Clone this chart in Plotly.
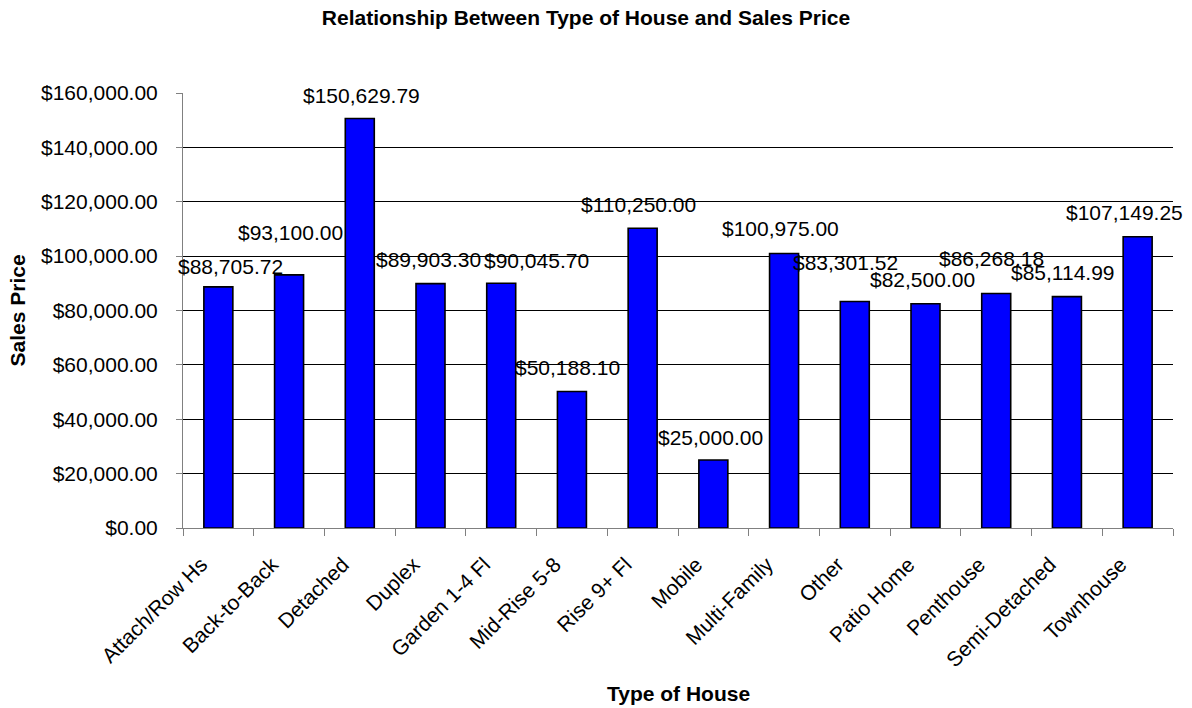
import plotly.graph_objects as go

# Average sales price by type of house
house_types = [
    "Attach/Row Hs", "Back-to-Back", "Detached", "Duplex", "Garden 1-4 Fl",
    "Mid-Rise 5-8", "Rise 9+ Fl", "Mobile", "Multi-Family", "Other",
    "Patio Home", "Penthouse", "Semi-Detached", "Townhouse",
]
sales_price = [
    88705.72, 93100.00, 150629.79, 89903.30, 90045.70,
    50188.10, 110250.00, 25000.00, 100975.00, 83301.52,
    82500.00, 86268.18, 85114.99, 107149.25,
]
y_ticks = [0, 20000, 40000, 60000, 80000, 100000, 120000, 140000, 160000]

# Pixel nudges for each value label (horizontal, vertical above bar top)
label_dx = [12, 1, 2, -2, 35, -4, -4, -3, -4, -9, -3, -5, -4, -13]
label_dy = [20, 42, 23, 24, 23, 24, 24, 23, 25, 39, 24, 35, 24, 24]

FONT = "Liberation Sans, Arial, sans-serif"

fig = go.Figure()
fig.add_trace(go.Bar(
    x=house_types,
    y=sales_price,
    width=0.41,
    marker=dict(color="#0000FF", line=dict(color="#000000", width=1.6)),
    hoverinfo="x+y",
))

for cat, val, dx, dy in zip(house_types, sales_price, label_dx, label_dy):
    fig.add_annotation(
        x=cat, y=val, xref="x", yref="y",
        text=f"${val:,.2f}", showarrow=False,
        xanchor="center", yanchor="middle",
        xshift=dx, yshift=dy,
        font=dict(family=FONT, size=21, color="#000000"),
    )

fig.add_annotation(
    text="<b>Sales Price</b>", xref="paper", yref="paper",
    x=-183 / 990 + 17 / 990, y=0.5, textangle=-90, showarrow=False,
    xanchor="center", yanchor="middle",
    font=dict(family=FONT, size=21, color="#000000"),
)
fig.add_annotation(
    text="<b>Type of House</b>", xref="paper", yref="paper",
    x=0.5, y=-(693 - 528) / 435, showarrow=False,
    xanchor="center", yanchor="middle",
    font=dict(family=FONT, size=21, color="#000000"),
)

fig.update_layout(
    width=1192, height=708,
    paper_bgcolor="#FFFFFF", plot_bgcolor="#FFFFFF",
    margin=dict(l=183, r=19, t=93, b=180),
    showlegend=False,
    bargap=0.59,
    title=dict(
        text="<b>Relationship Between Type of House and Sales Price</b>",
        x=586 / 1192, xanchor="center", xref="container",
        y=1 - 18 / 708, yanchor="middle", yref="container",
        font=dict(family=FONT, size=21, color="#000000"),
    ),
    font=dict(family=FONT, size=21, color="#000000"),
)

fig.update_xaxes(
    type="category",
    range=[-0.5, len(house_types) - 0.5],
    tickangle=-45,
    tickson="boundaries",
    ticks="outside", ticklen=7, tickcolor="#808080", tickwidth=1,
    showline=True, linecolor="#808080", linewidth=1,
    showgrid=False,
    ticklabelshift=-17,
    ticklabelstandoff=15,
    tickfont=dict(family=FONT, size=21, color="#000000"),
)
fig.update_yaxes(
    range=[0, 160000],
    tickvals=y_ticks,
    tickformat="$,.2f",
    ticks="outside", ticklen=6, tickcolor="#808080", tickwidth=1,
    showline=True, linecolor="#808080", linewidth=1,
    showgrid=True, gridcolor="#000000", gridwidth=1,
    zeroline=False,
    ticklabelstandoff=14,
    tickfont=dict(family=FONT, size=21, color="#000000"),
)

fig.write_html("out.html")
